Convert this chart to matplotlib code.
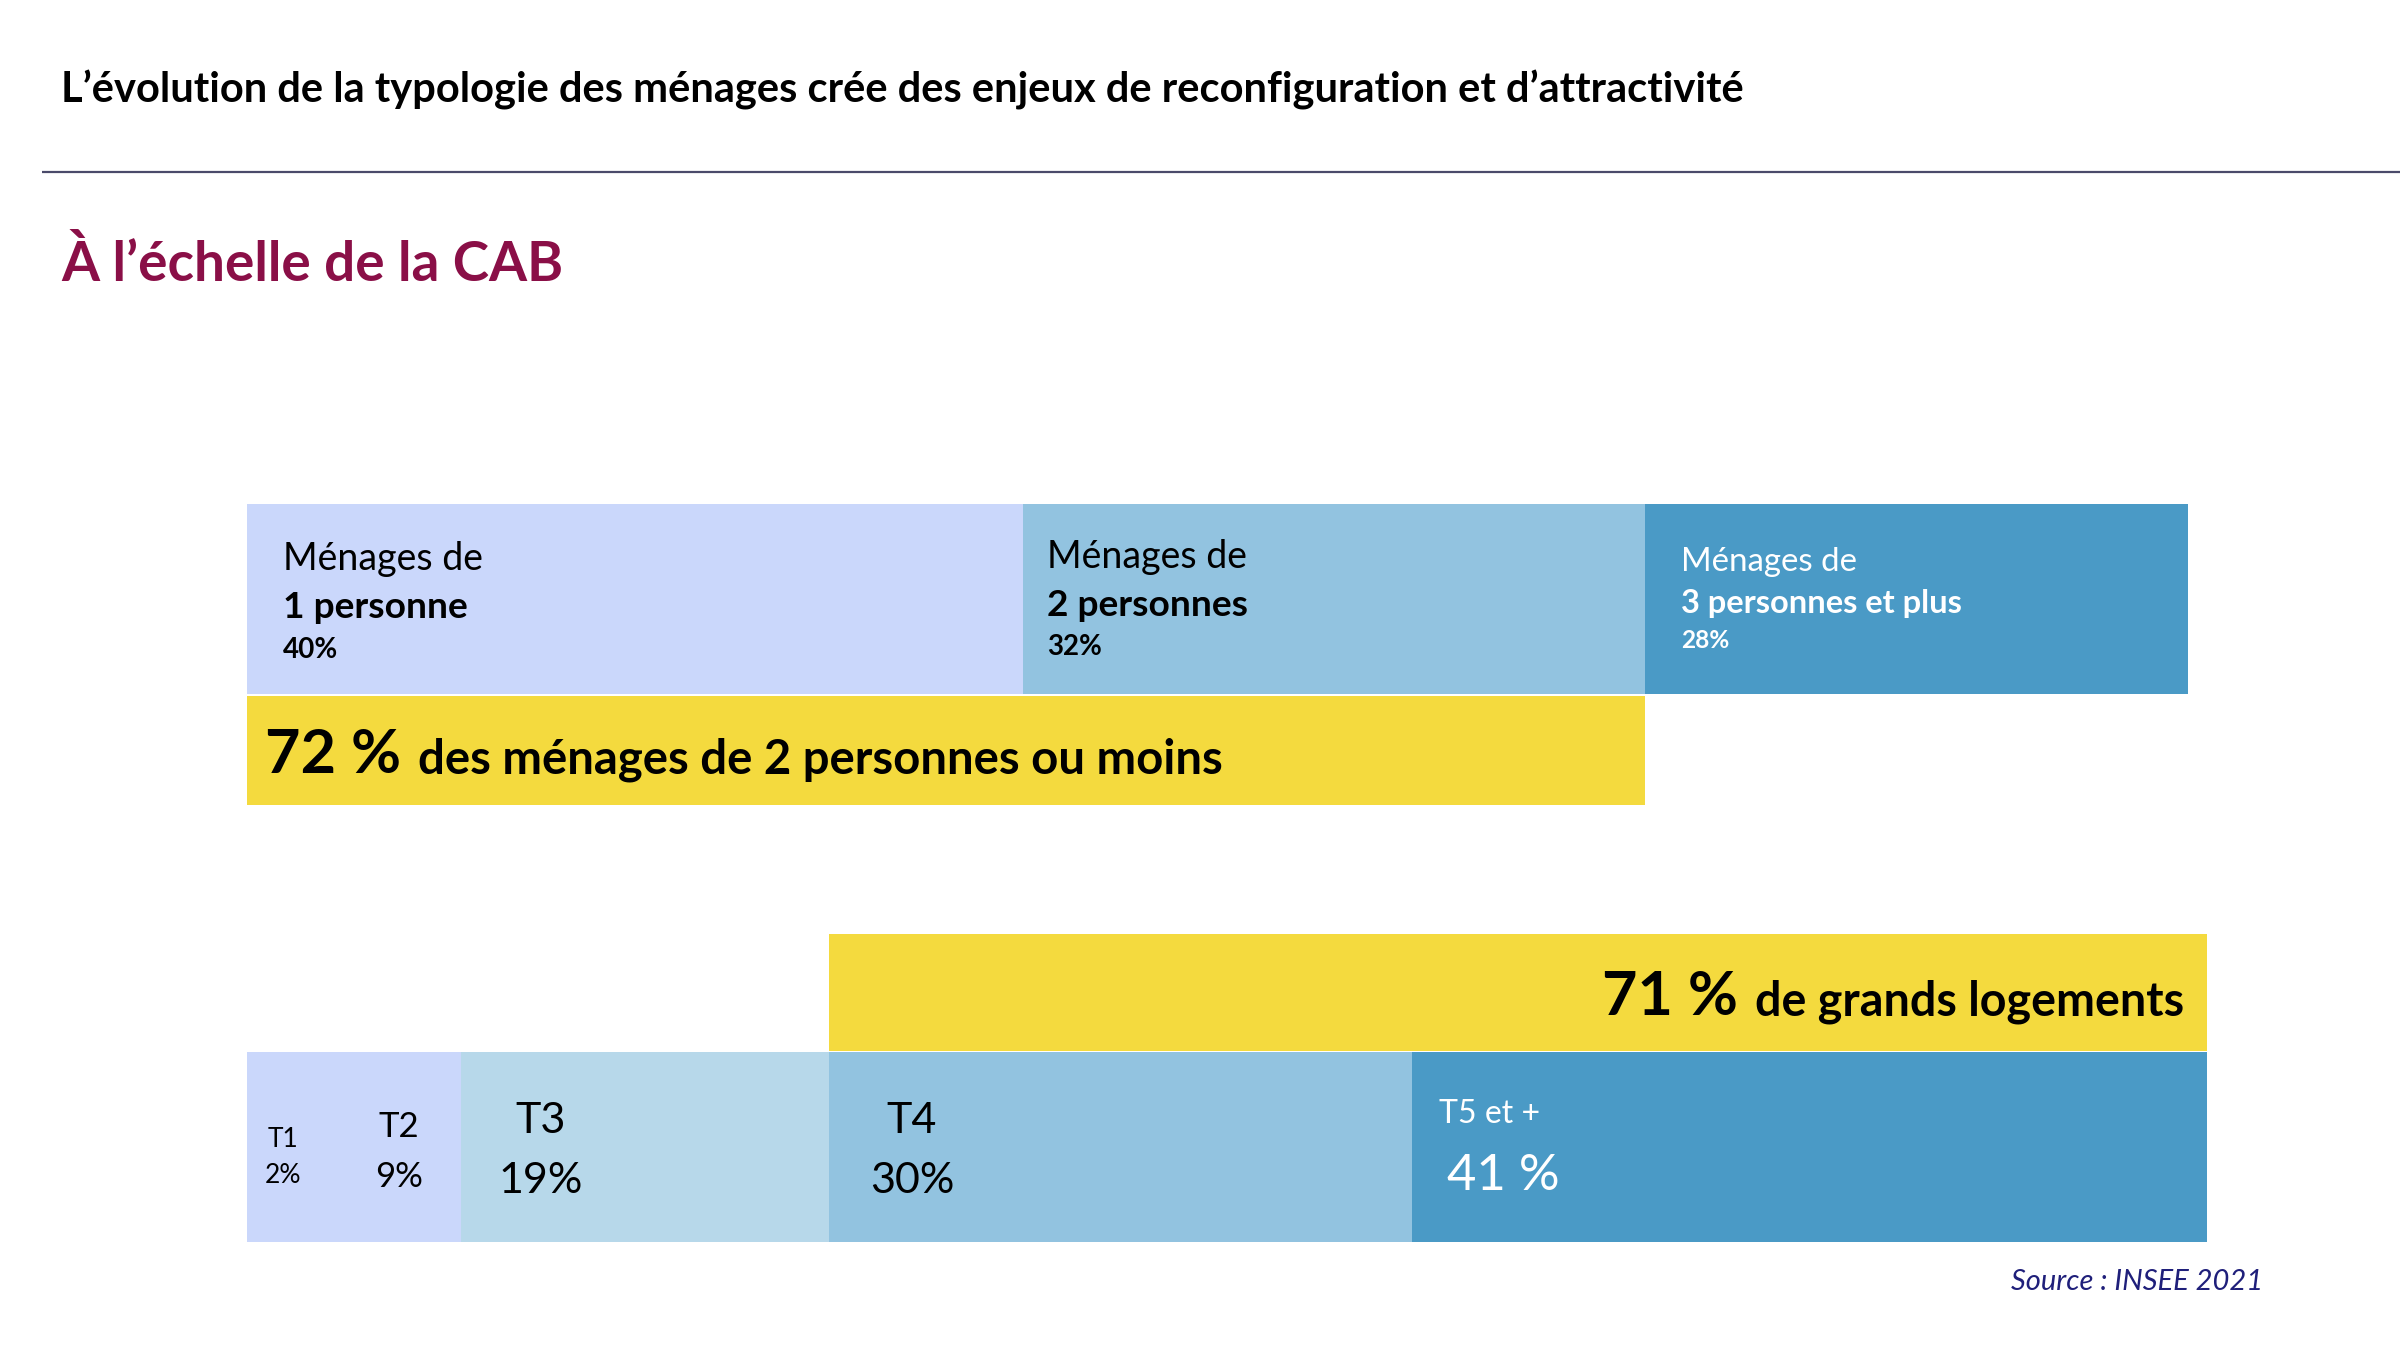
import matplotlib
matplotlib.use("Agg")
import matplotlib.pyplot as plt

plt.rcParams['font.family'] = ['Lato', 'DejaVu Sans']

# households by size (CAB, INSEE 2021)
menage_labels = ["Ménages de", "Ménages de", "Ménages de"]
menage_bold = ["1 personne", "2 personnes", "3 personnes et plus"]
menage_pct = [40, 32, 28]
menage_small_pct = 72  # 1 + 2 persons

# dwellings by number of rooms
logement_labels = ["T1", "T2", "T3", "T4", "T5 et +"]
logement_pct = [2, 9, 19, 30, 41]
logement_pct_text = ["2%", "9%", "19%", "30%", "41 %"]
grands_pct = 71  # T4 + T5 et +

LAVENDER = "#CAD7FB"
LIGHT = "#B7D8EA"
MID = "#92C3E0"
DARK = "#4A9AC6"
YELLOW = "#F4DA3E"

menage_colors = [LAVENDER, MID, DARK]
logement_colors = [LAVENDER, LAVENDER, LIGHT, MID, DARK]

W, H = 2400, 1350
x0, unit = 247, 19.41  # pixel of 0 %, pixels per percent

fig = plt.figure(figsize=(W / 100, H / 100), dpi=100)
ax = fig.add_axes([0, 0, 1, 1])
ax.set_xlim(-x0 / unit, (W - x0) / unit)
ax.set_ylim(H, 0)
ax.axis("off")


def px(x):
    return (x - x0) / unit


# header
fig.text(61 / W, 1 - 102 / H,
         "L\u2019évolution de la typologie des ménages crée des enjeux de reconfiguration et d\u2019attractivité",
         fontsize=30, fontweight="bold", color="black", va="baseline")
ax.plot([px(42), px(W)], [172, 172], color="#4A4A6A", lw=1.6, solid_capstyle="butt")
fig.text(61 / W, 1 - 281 / H, "À l\u2019échelle de la CAB",
         fontsize=39.5, fontweight="bold", color="#8A0F47", va="baseline")

# top bar: households
left = 0
for i, v in enumerate(menage_pct):
    ax.barh(599, v, left=left, height=190, color=menage_colors[i], linewidth=0)
    left += v

starts = [0, 40, 72]
offs = [1.85, 1.2, 1.9]
base = [(570, 618, 658), (568, 616, 655), (571, 613, 648)]
for i in range(3):
    tc = "white" if i == 2 else "black"
    sz = 0.88 if i == 2 else 1.0
    xx = starts[i] + offs[i]
    ax.text(xx, base[i][0], menage_labels[i], fontsize=27 * sz, color=tc, va="baseline")
    ax.text(xx, base[i][1], menage_bold[i], fontsize=26.7 * sz, fontweight="bold", color=tc, va="baseline")
    ax.text(xx, base[i][2], f"{menage_pct[i]}%", fontsize=20 * sz, fontweight="bold", color=tc, va="baseline")

ax.barh(750.5, menage_small_pct, left=0, height=109, color=YELLOW, linewidth=0)
ax.text(px(265), 773, f"{menage_small_pct} %", fontsize=44, fontweight="bold", va="baseline")
ax.text(px(418), 773, "des ménages de 2 personnes ou moins", fontsize=34, fontweight="bold", va="baseline")

# bottom bar: dwellings
total = sum(logement_pct)
ax.barh(992.5, grands_pct, left=total - grands_pct, height=117, color=YELLOW, linewidth=0)
ax.text(px(1738), 1015, f"{grands_pct} %", fontsize=44, fontweight="bold", ha="right", va="baseline")
ax.text(px(2184), 1015, "de grands logements", fontsize=33.6, fontweight="bold", ha="right", va="baseline")

left = 0
for i, v in enumerate(logement_pct):
    ax.barh(1147, v, left=left, height=190, color=logement_colors[i], linewidth=0)
    left += v

# label layout per segment: x (px), title baseline, pct baseline, sizes, align
lab = [
    (283, 1147, 1183, 19, 19, "center"),
    (399, 1137, 1187, 25, 25, "center"),
    (541, 1133, 1193, 31, 31, "center"),
    (912, 1133, 1193, 31, 31, "center"),
    (1439, 1123, 1190, 23, 36.5, "left"),
]
for i, (x, yb1, yb2, s1, s2, ha) in enumerate(lab):
    tc = "white" if i == 4 else "black"
    ax.text(px(x), yb1, logement_labels[i], fontsize=s1, color=tc, ha=ha, va="baseline")
    x2 = x + 8 if i == 4 else x
    ax.text(px(x2), yb2, logement_pct_text[i], fontsize=s2, color=tc, ha=ha, va="baseline")

fig.text(2263 / W, 1 - 1290 / H, "Source : INSEE 2021", fontsize=21, style="italic",
         color="#1F1F7A", ha="right", va="baseline")

fig.savefig("out.png", dpi=100, facecolor="white")
